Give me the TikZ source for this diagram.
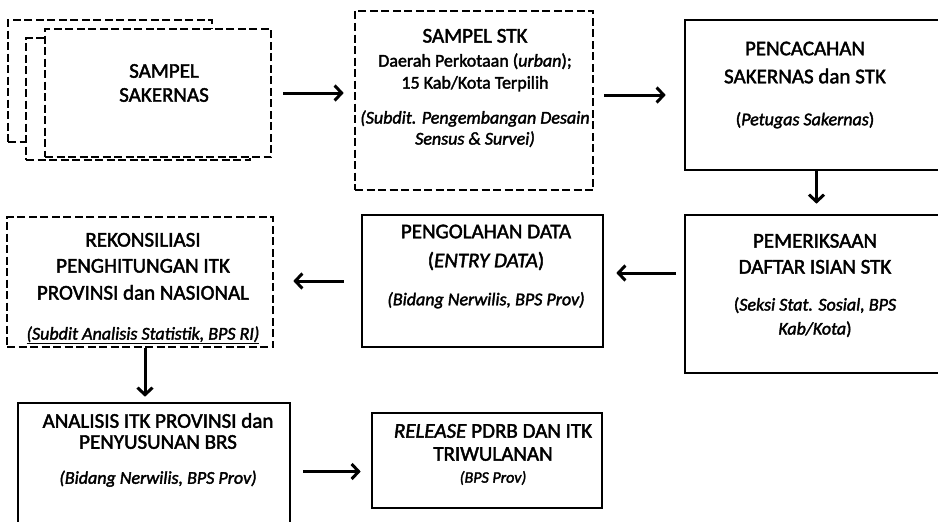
\documentclass[tikz,border=0pt]{standalone}
\usepackage{fontspec}
\setmainfont{Carlito}[UprightFeatures={FakeBold=2}, ItalicFeatures={FakeBold=2}]
\usetikzlibrary{arrows.meta,calc}
\newcommand{\subrm}{\fontsize{18}{22}\selectfont}
\newcommand{\subit}{\fontsize{18}{22}\selectfont\itshape}
\tikzset{
  solidbox/.style={draw, line width=2.6pt, fill=white, rectangle, inner sep=0pt},
  dashbox/.style={solidbox, dash pattern=on 8pt off 3.5pt},
  txt/.style={align=center, inner sep=0pt, font=\fontsize{21}{22}\selectfont},
  arr/.style={line width=3pt, -{Straight Barb[length=7pt,width=15pt]}},
}
\begin{document}
\begin{tikzpicture}[x=1pt,y=-1pt]
\clip (0,0) rectangle (938,522);
\fill[white] (0,0) rectangle (938,522);
% stacked sample boxes
\node[dashbox, minimum width=204pt, minimum height=122pt] (b1c) at (110,81) {};
\node[dashbox, minimum width=224pt, minimum height=122pt] (b1b) at (138,99) {};
\node[dashbox, minimum width=226pt, minimum height=128pt] (b1) at (158,93) {};
\node[txt] (t1) at (164,83) {SAMPEL\\[2pt]SAKERNAS};
% box 2
\node[dashbox, minimum width=238pt, minimum height=179pt] (b2) at (474,100.5) {};
\node[txt] (t2) at (475,88) {SAMPEL STK\\[2pt]
{\subrm Daerah Perkotaan (\textit{urban});}\\
{\subrm 15 Kab/Kota Terpilih}\\[13pt]
{\subit (Subdit. Pengembangan Desain}\\[-1pt]
{\subit Sensus \& Survei)}};
% box 3
\node[solidbox, minimum width=263pt, minimum height=150pt] (b3) at (816.5,95) {};
\node[txt] (t3) at (805,85) {PENCACAHAN\\[6pt]SAKERNAS dan STK\\[20pt]
{\subrm (\textit{Petugas Sakernas})}};
% box 4
\node[solidbox, minimum width=263pt, minimum height=158pt] (b4) at (816.5,294) {};
\node[txt] (t4) at (815,285.5) {PEMERIKSAAN\\[4pt]DAFTAR ISIAN STK\\[15pt]
{\subrm (\textit{Seksi Stat. Sosial, BPS}}\\[2pt]
{\subrm \textit{Kab/Kota})}};
% box 5
\node[solidbox, minimum width=241pt, minimum height=132pt] (b5) at (482.5,281) {};
\node[txt] (t5) at (486,266.5) {PENGOLAHAN DATA\\[7pt](\textit{ENTRY DATA})\\[16pt]
{\subit (Bidang Nerwilis, BPS Prov)}};
% box 6
\node[dashbox, minimum width=266pt, minimum height=130pt] (b6) at (140,282) {};
\node[txt] (t6) at (143,288.5) {REKONSILIASI\\[4pt]PENGHITUNGAN ITK\\[5pt]PROVINSI dan NASIONAL\\[18pt]
{\subit \underline{(Subdit Analisis Statistik, BPS RI)}}};
% box 7
\node[solidbox, minimum width=272pt, minimum height=137pt] (b7) at (154,471.5) {};
\node[txt] (t7) at (158,450) {ANALISIS ITK PROVINSI dan\\[-1pt]PENYUSUNAN BRS\\[13pt]
{\subit (Bidang Nerwilis, BPS Prov)}};
% box 8
\node[solidbox, minimum width=230pt, minimum height=95pt] (b8) at (487,460.5) {};
\node[txt] (t8) at (493,454.5) {\textit{RELEASE} PDRB DAN ITK\\[1pt]TRIWULANAN\\
{\fontsize{16}{22}\selectfont\itshape (BPS Prov)}};
% connectors
\draw[arr, shorten <=11pt, shorten >=10pt] (b1.east) -- (b1.east -| b2.west);
\draw[arr, shorten <=10pt, shorten >=18pt] (b3.west -| b2.east) -- (b3.west);
\draw[arr, shorten >=10pt] (b3.south) -- (b3.south |- b4.north);
\draw[arr, shorten <=8pt, shorten >=12pt] ([yshift=8pt]b5.east -| b4.west) -- ([yshift=8pt]b5.east);
\draw[arr, shorten <=17pt, shorten >=19pt] (b5.west) -- (b5.west -| b6.east);
\draw[arr, shorten >=5pt] ([xshift=5pt]b6.south) -- ([xshift=5pt]b6.south |- b7.north);
\draw[arr, shorten <=12pt, shorten >=10pt] (b7.east) -- (b7.east -| b8.west);
\end{tikzpicture}
\end{document}
